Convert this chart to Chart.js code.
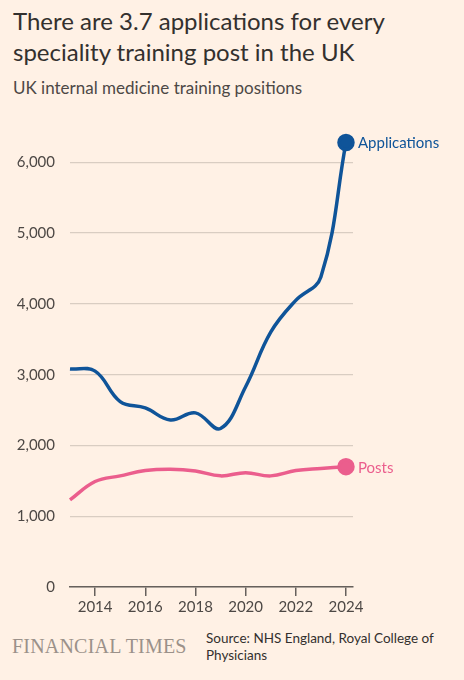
<!DOCTYPE html>
<html>
<head>
<meta charset="utf-8">
<script src="https://cdn.jsdelivr.net/npm/chart.js@4/dist/chart.umd.min.js"></script>
<style>
  html, body { margin: 0; padding: 0; background: #fff1e5; }
  body { width: 464px; height: 680px; position: relative; overflow: hidden; font-family: Lato, sans-serif; color: #33302e; }
  #title { position: absolute; left: 13px; top: 5px; width: 440px; font-size: 24px; line-height: 31px; color: #33302e; }
  #subtitle { position: absolute; left: 13px; top: 77px; font-size: 17px; color: #4d4845; }
  #wrap { position: absolute; left: 0; top: 110px; width: 464px; height: 517px; }
  #ft { position: absolute; left: 12px; top: 635px; font-family: "Liberation Serif", serif; font-size: 20px; color: #9b918a; letter-spacing: 0.2px; }
  #source { position: absolute; left: 206px; top: 630px; width: 240px; font-size: 13.5px; line-height: 17px; color: #33302e; }
</style>
</head>
<body>
<div id="title">There are 3.7 applications for every speciality training post in the UK</div>
<div id="subtitle">UK internal medicine training positions</div>
<div id="wrap"><canvas id="chart"></canvas></div>
<div id="ft">FINANCIAL TIMES</div>
<div id="source">Source: NHS England, Royal College of Physicians</div>
<script>
const years = [2013, 2014, 2015, 2016, 2017, 2018, 2019, 2020, 2021, 2022, 2023, 2024];
const applications = [3080, 3050, 2620, 2530, 2360, 2460, 2240, 2830, 3600, 4050, 4380, 6280];
const posts = [1230, 1490, 1570, 1645, 1665, 1640, 1570, 1615, 1570, 1645, 1675, 1700];
const yTicks = [0, 1000, 2000, 3000, 4000, 5000, 6000];
const xTicks = [2014, 2016, 2018, 2020, 2022, 2024];

const blue = "#0f5499";
const pink = "#eb5e8d";

// etiquetas al final de cada linea
const endLabels = {
  id: "endLabels",
  afterDatasetsDraw(chart) {
    const ctx = chart.ctx;
    chart.data.datasets.forEach((ds, i) => {
      const meta = chart.getDatasetMeta(i);
      const pt = meta.data[meta.data.length - 1];
      ctx.save();
      ctx.font = "15px Lato, sans-serif";
      ctx.fillStyle = ds.borderColor;
      ctx.textBaseline = "middle";
      ctx.fillText(ds.label, pt.x + 12, pt.y + 1);
      ctx.restore();
    });
  },
};

const chartCanvas = document.getElementById("chart").getContext("2d");

const chart = new Chart(chartCanvas, {
  type: "line",
  data: {
    datasets: [
      {
        label: "Applications",
        data: years.map((y, i) => ({ x: y, y: applications[i] })),
        borderColor: blue,
        backgroundColor: blue,
        borderWidth: 3.5,
        tension: 0.4,
        clip: false,
        pointRadius: years.map((y, i) => (i === years.length - 1 ? 7 : 0)),
      },
      {
        label: "Posts",
        data: years.map((y, i) => ({ x: y, y: posts[i] })),
        borderColor: pink,
        backgroundColor: pink,
        borderWidth: 3.5,
        tension: 0.4,
        clip: false,
        pointRadius: years.map((y, i) => (i === years.length - 1 ? 7 : 0)),
      },
    ],
  },
  options: {
    responsive: true,
    maintainAspectRatio: false,
    animation: false,
    layout: { padding: { top: 24, right: 111, left: 0, bottom: 0 } },
    plugins: { legend: { display: false }, tooltip: { enabled: false } },
    scales: {
      x: {
        type: "linear",
        min: 2013,
        max: 2024.28,
        afterBuildTicks: (scale) => { scale.ticks = xTicks.map((v) => ({ value: v })); },
        afterFit: (scale) => { scale.height = 40; },
        grid: { display: true, drawOnChartArea: false, drawTicks: true, tickLength: 9, color: "#66605c", lineWidth: 1.5 },
        border: { display: true, color: "#66605c", width: 1.5 },
        ticks: {
          autoSkip: false,
          maxRotation: 0,
          padding: 2,
          color: "#4d4845",
          font: { family: "Lato, sans-serif", size: 15 },
          callback: (v) => String(v),
        },
      },
      y: {
        min: 0,
        max: 6400,
        afterBuildTicks: (scale) => { scale.ticks = yTicks.map((v) => ({ value: v })); },
        afterFit: (scale) => { scale.width = 70; },
        grid: { color: "#d9cdc2", lineWidth: 1.2, drawTicks: false },
        border: { display: false },
        ticks: {
          padding: 15,
          color: "#4d4845",
          font: { family: "Lato, sans-serif", size: 15 },
          callback: (v) => v.toLocaleString("en-US"),
        },
      },
    },
  },
  plugins: [endLabels],
});
</script>
</body>
</html>
